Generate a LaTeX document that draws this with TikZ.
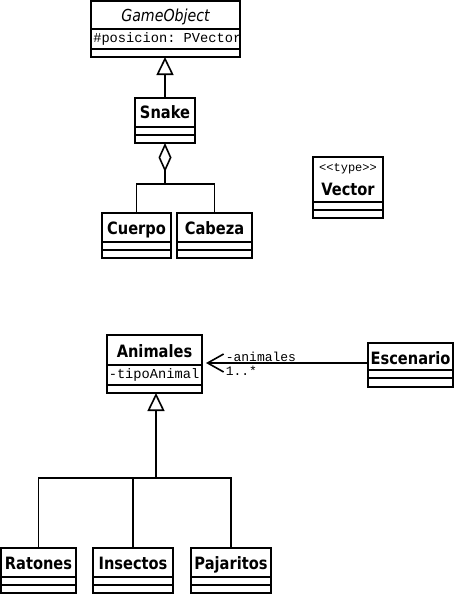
\documentclass[tikz,border=0pt]{standalone}
\usepackage{fontspec}
\setmainfont{DejaVu Sans}[FakeStretch=0.86]
\setmonofont{Liberation Mono}
\usetikzlibrary{arrows.meta}
\newcommand\umlclass[7]{%
  \node[cls, minimum width={#4-#2}, minimum height={#5-#3}] (#1) at (#2,#3) {};
  \draw (#2,#6) -- (#4,#6) (#2,#7) -- (#4,#7);
}
\begin{document}
\begin{tikzpicture}[x=1pt,y=-1pt, line width=1.6pt,
  cls/.style={draw, anchor=north west, inner sep=0pt, outer sep=0pt},
  ttl/.style={font=\fontsize{17}{18}\selectfont\bfseries, inner sep=0pt, anchor=base},
  ittl/.style={font=\fontsize{16.5}{18}\selectfont\itshape, inner sep=0pt, anchor=base},
  attr/.style={font=\fontsize{13.7}{15}\selectfont\ttfamily, inner sep=0pt, anchor=base west},
  lbl/.style={font=\fontsize{13}{14}\selectfont\ttfamily, inner sep=0pt, anchor=base west},
  stereo/.style={font=\fontsize{12}{13}\selectfont\ttfamily, inner sep=0pt, anchor=base},
  gen/.style={-{Triangle[open,length=18pt,width=17pt,line width=1.6pt]}},
  agg/.style={{Diamond[open,length=29pt,width=13pt]}-},
  assoc/.style={-{Straight Barb[length=16pt,width=18pt]}, shorten >=4pt}
]
\useasboundingbox (0,0) rectangle (455,594);

% classes
\umlclass{go}{91}{1}{240}{57}{29}{49}
\node[ittl] (goT) at (165.5,22) {GameObject};
\node[attr] (goA) at (92.5,43) {\#posicion: PVector};

\umlclass{snake}{135}{98}{195}{143}{127}{135}
\node[ttl] (snakeT) at (165,118) {Snake};

\umlclass{cuerpo}{102}{213}{171}{258}{242}{250}
\node[ttl] (cuerpoT) at (136.5,234) {Cuerpo};

\umlclass{cabeza}{177}{213}{252}{258}{242}{250}
\node[ttl] (cabezaT) at (214.5,234) {Cabeza};

\umlclass{vec}{313}{157}{383}{218}{202}{210}
\node[stereo] (vecS) at (348,171) {<<type>>};
\node[ttl] (vecT) at (348,195) {Vector};

\umlclass{ani}{107}{335}{202}{393}{365}{385}
\node[ttl] (aniT) at (154.5,357) {Animales};
\node[attr] (aniA) at (108,378) {-tipoAnimal};

\umlclass{esc}{368}{343}{453}{387}{370}{378}
\node[ttl] (escT) at (410.5,364) {Escenario};

\umlclass{rat}{1}{548}{76}{593}{577}{585}
\node[ttl] (ratT) at (38.5,569) {Ratones};

\umlclass{ins}{93}{548}{173}{593}{577}{585}
\node[ttl] (insT) at (133,569) {Insectos};

\umlclass{paj}{191}{548}{271}{593}{577}{585}
\node[ttl] (pajT) at (231,569) {Pajaritos};

% Snake -> GameObject
\draw[gen] (snake.north) -- (snake.north |- go.south);

% aggregation Snake <>- Cuerpo, Cabeza
\coordinate (aj) at (165,184);
\draw[agg] (snake.south) -- (aj);
\draw (cuerpo.north) |- (aj) -| (cabeza.north);

% association Escenario -> Animales
\coordinate (asc) at (0,363);
\draw[assoc] (esc.west |- asc) -- (ani.east |- asc);
\node[lbl] (l1) at (225,361) {-animales};
\node[lbl] (l2) at (225,375) {1..*};

% generalization of animals
\coordinate (gj) at (156,478);
\draw[gen, line width=2.4pt] (gj) -- (gj |- ani.south);
\draw (rat.north) |- (gj) -| (paj.north);
\draw (ins.north) -- (ins.north |- gj);
\end{tikzpicture}
\end{document}
